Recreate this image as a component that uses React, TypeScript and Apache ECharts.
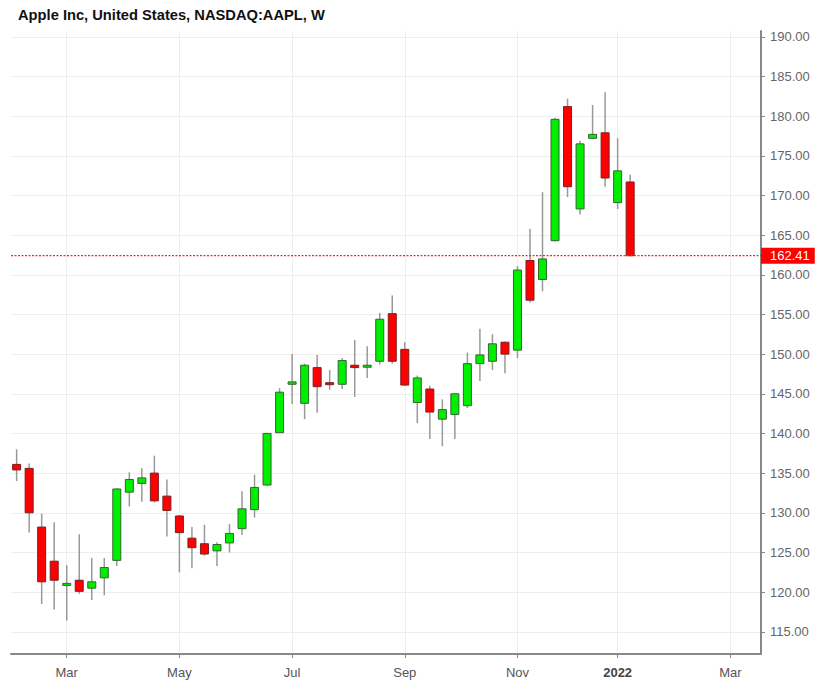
import React, { useEffect, useRef } from "react";
import * as echarts from "echarts";

// Weekly bars, week starting dates
const weeks = [
  "2021-02-08", "2021-02-16", "2021-02-22", "2021-03-01", "2021-03-08", "2021-03-15", "2021-03-22", "2021-03-29",
  "2021-04-05", "2021-04-12", "2021-04-19", "2021-04-26", "2021-05-03", "2021-05-10", "2021-05-17", "2021-05-24",
  "2021-06-01", "2021-06-07", "2021-06-14", "2021-06-21", "2021-06-28", "2021-07-06", "2021-07-12", "2021-07-19",
  "2021-07-26", "2021-08-02", "2021-08-09", "2021-08-16", "2021-08-23", "2021-08-30", "2021-09-07", "2021-09-13",
  "2021-09-20", "2021-09-27", "2021-10-04", "2021-10-11", "2021-10-18", "2021-10-25", "2021-11-01", "2021-11-08",
  "2021-11-15", "2021-11-22", "2021-11-29", "2021-12-06", "2021-12-13", "2021-12-20", "2021-12-27", "2022-01-03",
  "2022-01-10", "2022-01-18",
];
const opens = [
  136.1, 135.6, 128.2, 123.9, 120.95, 121.5, 120.5, 121.8, 124.0, 132.6, 133.7, 135.0, 132.1, 129.6, 126.8, 126.1,
  125.2, 126.2, 128.0, 130.4, 133.5, 140.1, 146.2, 143.8, 148.3, 146.4, 146.2, 148.6, 148.4, 149.1, 155.1, 150.6,
  143.9, 145.6, 141.8, 142.4, 143.5, 148.8, 149.1, 151.5, 150.5, 161.8, 159.4, 164.3, 181.2, 168.3, 177.2, 177.9,
  169.1, 171.7,
];
const highs = [
  138.0, 136.2, 129.9, 128.8, 123.4, 127.3, 124.3, 124.3, 133.1, 135.1, 135.6, 137.2, 134.2, 129.7, 128.2, 128.5,
  126.3, 128.6, 132.7, 134.8, 140.1, 145.7, 150.0, 148.8, 149.9, 148.0, 149.5, 151.8, 151.0, 155.2, 157.4, 151.5,
  147.3, 146.0, 144.3, 145.0, 150.2, 153.2, 152.5, 151.6, 161.1, 165.8, 170.4, 179.8, 182.2, 176.9, 181.4, 183.0,
  177.2, 172.6,
];
const lows = [
  134.0, 127.5, 118.5, 117.8, 116.4, 119.8, 119.0, 119.6, 123.3, 130.8, 131.4, 131.3, 127.0, 122.5, 123.0, 124.6,
  123.3, 125.0, 127.2, 129.4, 133.4, 140.1, 143.7, 141.8, 142.6, 145.5, 145.6, 144.6, 147.0, 148.7, 148.8, 146.0,
  141.3, 139.3, 138.4, 139.3, 143.2, 146.6, 148.0, 147.6, 149.5, 156.5, 157.9, 164.2, 169.8, 167.6, 177.1, 171.1,
  168.3, 162.3,
];
const closes = [
  135.4, 130.0, 121.3, 121.5, 121.1, 120.1, 121.3, 123.1, 133.0, 134.2, 134.4, 131.5, 130.3, 127.5, 125.6, 124.8,
  126.0, 127.4, 130.5, 133.2, 140.0, 145.2, 146.5, 148.6, 145.9, 146.2, 149.2, 148.3, 148.6, 154.4, 149.1, 146.1,
  147.0, 142.7, 143.0, 145.0, 148.8, 149.9, 151.3, 150.0, 160.6, 156.8, 162.0, 179.6, 171.1, 176.5, 177.7, 172.2,
  173.1, 162.41,
];

// Axis labels (bar index -> label)
const xTickIndex = [4, 13, 22, 31, 40, 48, 57];
const xTickLabels = ["Mar", "May", "Jul", "Sep", "Nov", "2022", "Mar"];
const yTicks = [115, 120, 125, 130, 135, 140, 145, 150, 155, 160, 165, 170, 175, 180, 185, 190];

const xMin = -0.45;
const xMax = 59.45;
const lastPrice = closes[closes.length - 1];

export default function App() {
  const ref = useRef<HTMLDivElement>(null);
  useEffect(() => {
    if (!ref.current) return;
    const chart = echarts.init(ref.current, null, { renderer: "svg" });
    const data = weeks.map((w, i) => [i, opens[i], closes[i], lows[i], highs[i]]);
    const font = "Liberation Sans, Arial, sans-serif";
    chart.setOption({
      animation: false,
      backgroundColor: "#ffffff",
      textStyle: { fontFamily: font },
      title: {
        text: "Apple Inc, United States, NASDAQ:AAPL, W",
        left: 13,
        top: 2,
        textStyle: { fontSize: 14.7, fontWeight: "bold", color: "#111", fontFamily: font },
      },
      grid: { left: 11, right: 60, top: 31, bottom: 39, containLabel: false },
      xAxis: {
        type: "value",
        min: xMin,
        max: xMax,
        axisLine: { show: true, onZero: false, lineStyle: { color: "#888", width: 2 } },
        axisTick: { show: true, length: 4, lineStyle: { color: "#888" }, customValues: xTickIndex },
        axisLabel: {
          customValues: xTickIndex,
          color: "#555",
          fontSize: 13,
          margin: 12,
          formatter: (v: number) => {
            const k = xTickIndex.indexOf(Math.round(v));
            const s = k >= 0 ? xTickLabels[k] : "";
            return s === "2022" ? "{b|" + s + "}" : s;
          },
          rich: { b: { fontWeight: "bold", color: "#444", fontSize: 13 } },
        },
        splitLine: { show: true, lineStyle: { color: "#eeeeee", width: 1 } },
      },
      yAxis: {
        type: "value",
        position: "right",
        min: 112.2,
        max: 190.73,
        axisLine: { show: true, onZero: false, lineStyle: { color: "#888", width: 2 } },
        axisTick: { show: true, length: 4, lineStyle: { color: "#888" }, customValues: yTicks },
        axisLabel: {
          customValues: yTicks,
          color: "#666",
          fontSize: 13,
          margin: 9,
          formatter: (v: number) => v.toFixed(2),
        },
        splitLine: { show: true, lineStyle: { color: "#eeeeee", width: 1 } },
      },
      series: [
        {
          type: "custom",
          dimensions: ["x", "open", "close", "low", "high"],
          encode: { x: 0, y: [1, 2, 3, 4] },
          data,
          clip: true,
          renderItem: (params: any, api: any) => {
            const x = api.value(0);
            const o = api.value(1);
            const c = api.value(2);
            const l = api.value(3);
            const h = api.value(4);
            const pO = api.coord([x, o]);
            const pC = api.coord([x, c]);
            const pL = api.coord([x, l]);
            const pH = api.coord([x, h]);
            const w = api.size([1, 0])[0] * 0.64;
            const up = c >= o;
            const top = Math.min(pO[1], pC[1]);
            const hgt = Math.max(Math.abs(pO[1] - pC[1]), 2);
            return {
              type: "group",
              children: [
                {
                  type: "line",
                  shape: { x1: pH[0], y1: pH[1], x2: pL[0], y2: pL[1] },
                  style: { stroke: "#999999", lineWidth: 1.5 },
                },
                {
                  type: "rect",
                  shape: { x: pO[0] - w / 2, y: top, width: w, height: hgt },
                  style: {
                    fill: up ? "#00ee00" : "#ff0000",
                    stroke: up ? "#336633" : "#7a2020",
                    lineWidth: 1,
                  },
                },
              ],
            };
          },
        },
        {
          type: "line",
          data: [
            [xMin, lastPrice],
            [xMax, lastPrice],
          ],
          symbol: "none",
          silent: true,
          clip: false,
          color: "#ff0000",
          lineStyle: { color: "#ff2020", type: [2, 1.5], width: 1.3 },
          endLabel: {
            show: true,
            formatter: () => lastPrice.toFixed(2),
            color: "#ffffff",
            backgroundColor: "#ff0000",
            padding: [2, 5, 1, 9],
            fontSize: 13,
            distance: 0,
          },
          z: 5,
        },
      ],
    });
    return () => chart.dispose();
  }, []);
  return (
    <div
      ref={ref}
      style={{ position: "fixed", left: 0, top: 0, width: 821, height: 693, background: "#fff" }}
    />
  );
}
